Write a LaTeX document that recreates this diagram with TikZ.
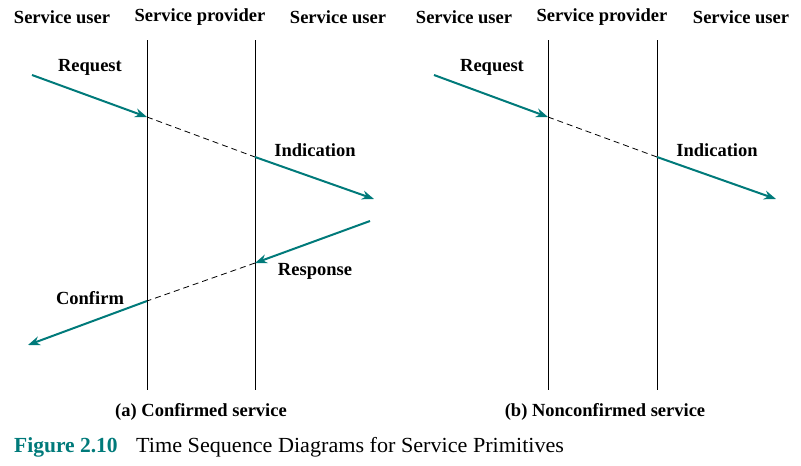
\documentclass[tikz,border=0pt]{standalone}
\usepackage{fontspec}
\setmainfont{Liberation Serif}
\newfontfamily\capfont[FakeStretch=1.03]{Liberation Serif}
\usetikzlibrary{arrows.meta}
\definecolor{primteal}{RGB}{0,122,122}
\tikzset{
  lifeline/.style={draw=black, line width=0.8pt},
  primitive/.style={draw=primteal, line width=2pt, -{Stealth[length=12pt,width=9pt]}},
  transit/.style={draw=black, line width=0.8pt, dash pattern=on 6pt off 4pt},
  head/.style={font=\fontsize{18.5}{21}\selectfont\bfseries},
  plabel/.style={font=\fontsize{18.5}{21}\selectfont\bfseries},
  subcap/.style={font=\fontsize{18.5}{21}\selectfont\bfseries}
}
\begin{document}
\begin{tikzpicture}[x=1pt, y=-1pt]
  \useasboundingbox (0,0) rectangle (801,466);

  % Confirmed service
  \node[head] (hu1) at (62,17) {Service user};
  \node[head] (hp1) at (200,17) {Service provider};
  \node[head] (hv1) at (338,17) {Service user};
  \coordinate (pt1) at (147,40);
  \coordinate (pb1) at (147,390);
  \coordinate (qt1) at (255,40);
  \coordinate (qb1) at (255,390);
  \draw[lifeline] (pt1) -- (pb1);
  \draw[lifeline] (qt1) -- (qb1);

  \coordinate (req1) at (32,75);
  \coordinate (reqin1) at (147,117);
  \coordinate (indout1) at (255,157);
  \coordinate (ind1) at (374,199);
  \draw[primitive] (req1) -- (reqin1);
  \draw[transit] (reqin1) -- (indout1);
  \draw[primitive] (indout1) -- (ind1);
  \node[plabel] (lreq1) at (90,67) {Request};
  \node[plabel] (lind1) at (315,150) {Indication};

  \coordinate (rsp) at (370,221);
  \coordinate (rspin) at (255,263);
  \coordinate (cnfout) at (147,301);
  \coordinate (cnf) at (28,345);
  \draw[primitive] (rsp) -- (rspin);
  \draw[transit] (rspin) -- (cnfout);
  \draw[primitive] (cnfout) -- (cnf);
  \node[plabel] (lrsp) at (315,271) {Response};
  \node[plabel] (lcnf) at (90,298) {Confirm};

  \node[subcap] (capa) at (201,412) {(a) Confirmed service};

  % Nonconfirmed service
  \node[head] (hu2) at (464,17) {Service user};
  \node[head] (hp2) at (602,17) {Service provider};
  \node[head] (hv2) at (741,17) {Service user};
  \coordinate (pt2) at (548,40);
  \coordinate (pb2) at (548,390);
  \coordinate (qt2) at (657,40);
  \coordinate (qb2) at (657,390);
  \draw[lifeline] (pt2) -- (pb2);
  \draw[lifeline] (qt2) -- (qb2);

  \coordinate (req2) at (434,75);
  \coordinate (reqin2) at (548,117);
  \coordinate (indout2) at (657,157);
  \coordinate (ind2) at (776,199);
  \draw[primitive] (req2) -- (reqin2);
  \draw[transit] (reqin2) -- (indout2);
  \draw[primitive] (indout2) -- (ind2);
  \node[plabel] (lreq2) at (492,67) {Request};
  \node[plabel] (lind2) at (717,150) {Indication};

  \node[subcap] (capb) at (605,412) {(b) Nonconfirmed service};

  % Caption
  \node[anchor=base west, inner sep=0pt, font=\fontsize{21.5}{24}\selectfont\bfseries, text=primteal] (fignum) at (14,452) {Figure 2.10};
  \node[anchor=base west, inner sep=0pt, font=\capfont\fontsize{21.5}{24}\selectfont] (figtxt) at (136,452) {Time Sequence Diagrams for Service Primitives};
\end{tikzpicture}
\end{document}
